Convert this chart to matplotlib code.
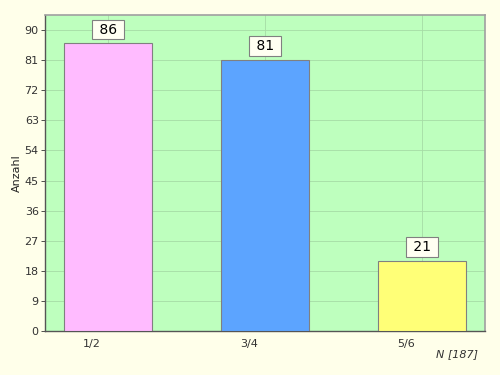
import matplotlib.pyplot as plt
import matplotlib.transforms as mtransforms

# Data
categories = ['1/2', '3/4', '5/6']
counts = [86, 81, 21]
bar_colors = ['#FFBBFF', '#5CA4FF', '#FFFF77']
y_ticks = [0, 9, 18, 27, 36, 45, 54, 63, 72, 81, 90]
total_label = 'N [187]'

fig = plt.figure(figsize=(5, 3.75), dpi=100, facecolor='#FFFFEA')
ax = fig.add_axes([0.09, 0.117, 0.88, 0.843])
ax.set_facecolor('#BEFFBE')

x = list(range(len(categories)))
ax.bar(x, counts, width=0.56, color=bar_colors, edgecolor='#808080', linewidth=0.8, zorder=3)

for xi, c in zip(x, counts):
    ax.annotate(' ' + str(c) + ' ', (xi, c), xytext=(0, 10), textcoords='offset points',
                ha='center', va='center', fontsize=10, zorder=4,
                bbox=dict(boxstyle='square,pad=0.2', fc='#FFFFF2', ec='#808080', lw=0.8))

ax.set_xlim(-0.4, 2.4)
ax.set_ylim(0, 94.5)
ax.set_yticks(y_ticks)
ax.set_xticks(x)
ax.set_xticklabels(categories)
ax.tick_params(axis='both', labelsize=8, colors='#333333', length=3, width=0.6)
ax.tick_params(axis='y', pad=1.5)
ax.tick_params(axis='x', length=0, pad=6)
offset = mtransforms.ScaledTranslation(-16 / 100, 0, fig.dpi_scale_trans)
for lbl in ax.get_xticklabels():
    lbl.set_transform(lbl.get_transform() + offset)

ax.grid(True, color='#A6DCA6', linewidth=0.6, zorder=0)
ax.set_axisbelow(True)

for side in ['left', 'bottom']:
    ax.spines[side].set_color('#555555')
    ax.spines[side].set_linewidth(1.0)
for side in ['top', 'right']:
    ax.spines[side].set_color('#A0A0A0')
    ax.spines[side].set_linewidth(1.2)

ax.set_ylabel('Anzahl', fontsize=8, color='#222222')
ax.yaxis.set_label_coords(-0.052, 0.5)
fig.text(0.955, 0.055, total_label, fontsize=8, style='italic', ha='right', va='center', color='#333333')

fig.savefig('out.png', dpi=100, facecolor=fig.get_facecolor())
